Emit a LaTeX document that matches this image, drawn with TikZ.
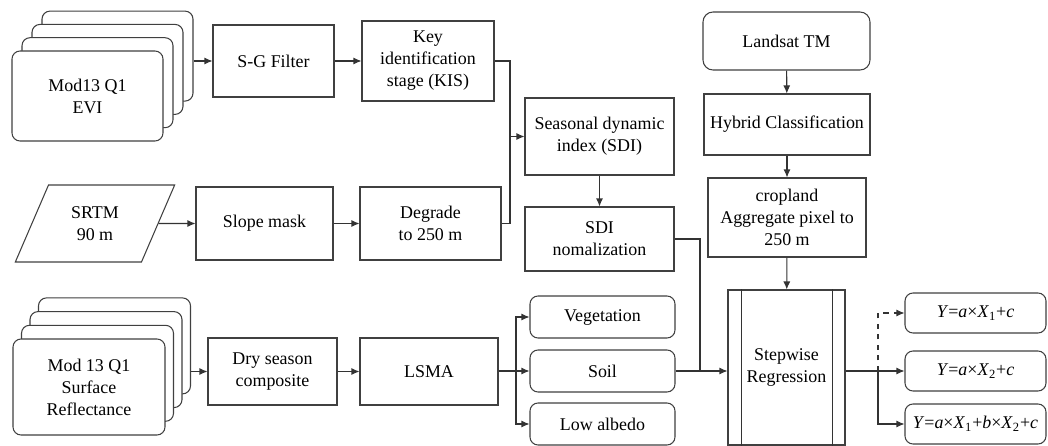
\documentclass[tikz,border=0pt]{standalone}
\usepackage{fontspec}
\setmainfont{Liberation Serif}
\usetikzlibrary{calc,arrows.meta,shapes.geometric}
\tikzset{
	sz/.style 2 args={minimum width=#1*0.02cm, minimum height=#2*0.02cm},
	box/.style={draw=black!75, line width=0.6pt, fill=white, inner sep=0pt, align=center},
	rbox/.style={box, rounded corners=1.6mm},
	card/.style={rbox, sz={151}{90}},
	line/.style={draw=black!80, line width=0.6pt},
	>={Latex[length=1.6mm,width=1.4mm]}
}
\def\eq#1{\textit{#1}}

\begin{document}
\begin{tikzpicture}[x=0.02cm, y=-0.02cm, font=\fontsize{10.2}{12.5}\selectfont]
			%%%%% START %%%%%
			\useasboundingbox (0, 0) rectangle (1048, 446);
			
			\foreach \k in {3, 2, 1}
				\node[card] (evi\k) at ({87.5 + 10*\k}, {96 - 13.3*\k}) {};
			\node[card] (evi) at (87.5, 96) {Mod13 Q1\\EVI};
			\node[box, sz={121}{72}] (sg) at (273.5, 61) {S-G Filter};
			\node[box, sz={132}{80}] (kis) at (428, 61) {Key\\identification\\stage (KIS)};
			
			\node[draw=black!75, line width=0.6pt, trapezium, trapezium left angle=63.4, trapezium right angle=116.6, trapezium stretches=true, inner sep=0pt, align=center, sz={160}{77}] (srtm) at (95, 223.5) {SRTM\\90 m};
			\node[box, sz={137}{73}] (slope) at (264.5, 223.5) {Slope mask};
			\node[box, sz={141}{73}] (degrade) at (430.5, 223.5) {Degrade\\to 250 m};
			
			\node[box, sz={149}{77}] (sdi) at (599.5, 136.5) {Seasonal dynamic\\index (SDI)};
			\node[box, sz={149}{64}] (sdinorm) at (599.5, 239) {SDI\\nomalization};
			
			\node[rbox, sz={167}{58}, rounded corners=2mm] (landsat) at (786.5, 41) {Landsat TM};
			\node[box, sz={166}{61}] (hybrid) at (787, 124.5) {Hybrid Classification};
			\node[box, sz={158}{79}] (crop) at (787, 217.5) {cropland\\Aggregate pixel to\\250 m};
			
			\foreach \k in {3, 2, 1}
				\node[card, sz={152}{96}] (sr\k) at ({89 + 8.5*\k}, {387 - 13.7*\k}) {};
			\node[card, sz={152}{96}] (sr) at (89, 387) {Mod 13 Q1\\Surface\\Reflectance};
			\node[box, sz={129}{67}] (dry) at (272.5, 371.5) {Dry season\\composite};
			\node[box, sz={138}{67}] (lsma) at (429, 371.5) {LSMA};
			
			\node[rbox, sz={145}{42}] (veg) at (602.5, 317) {Vegetation};
			\node[rbox, sz={145}{42}] (soil) at (602.5, 371) {Soil};
			\node[rbox, sz={145}{42}] (low) at (602.5, 424) {Low albedo};
			
			\node[box, sz={117}{155}] (reg) at (786.5, 367.5) {Stepwise\\Regression};
			\draw[line] ($(reg.north west)+(14, 0)$) -- ($(reg.south west)+(14, 0)$);
			\draw[line] ($(reg.north east)+(-13, 0)$) -- ($(reg.south east)+(-13, 0)$);
			
			\node[rbox, sz={141}{40}] (y1) at (975.5, 313) {\eq{Y}=\eq{a}×\eq{X}\textsubscript{1}+\eq{c}};
			\node[rbox, sz={141}{40}] (y2) at (975.5, 371) {\eq{Y}=\eq{a}×\eq{X}\textsubscript{2}+\eq{c}};
			\node[rbox, sz={141}{40}] (y3) at (975.5, 424) {\eq{Y}=\eq{a}×\eq{X}\textsubscript{1}+\eq{b}×\eq{X}\textsubscript{2}+\eq{c}};
			
			\coordinate (jsdi) at (510, 136.5);
			\coordinate (jmix) at (516, 371);
			\coordinate (jreg) at (700, 371);
			\coordinate (jeq) at (878, 371);
			
			\draw[line, ->] (evi3.east |- sg.west) -- (sg);
			\draw[line, ->] (sg) -- (kis);
			\draw[line, ->] (srtm) -- (slope);
			\draw[line, ->] (slope) -- (degrade);
			\draw[line] (kis.east) -| (jsdi) |- (degrade.east);
			\draw[line, ->] (jsdi) -- (sdi);
			\draw[line, ->] (sdi) -- (sdinorm);
			
			\draw[line, ->] (landsat) -- (hybrid);
			\draw[line, ->] (hybrid) -- (crop);
			\draw[line, ->] (crop) -- (reg);
			
			\draw[line, ->] (sr3.east |- dry.west) -- (dry);
			\draw[line, ->] (dry) -- (lsma);
			\draw[line] (lsma.east |- jmix) -- (jmix);
			\draw[line, ->] (jmix) |- (veg);
			\draw[line, ->] (jmix) -- (soil);
			\draw[line, ->] (jmix) |- (low);
			
			\draw[line] (sdinorm.east) -| (jreg);
			\draw[line] (soil) -- (jreg);
			\draw[line, ->] (jreg) -- (reg.west |- jreg);
			
			\draw[line] (reg.east |- jeq) -- (jeq);
			\draw[line, ->] (jeq) -- (y2);
			\draw[line, ->] (jeq) |- (y3);
			\draw[line, dashed, ->] (jeq) |- (y1);
			%%%%% END %%%%%
		\end{tikzpicture}
\end{document}
